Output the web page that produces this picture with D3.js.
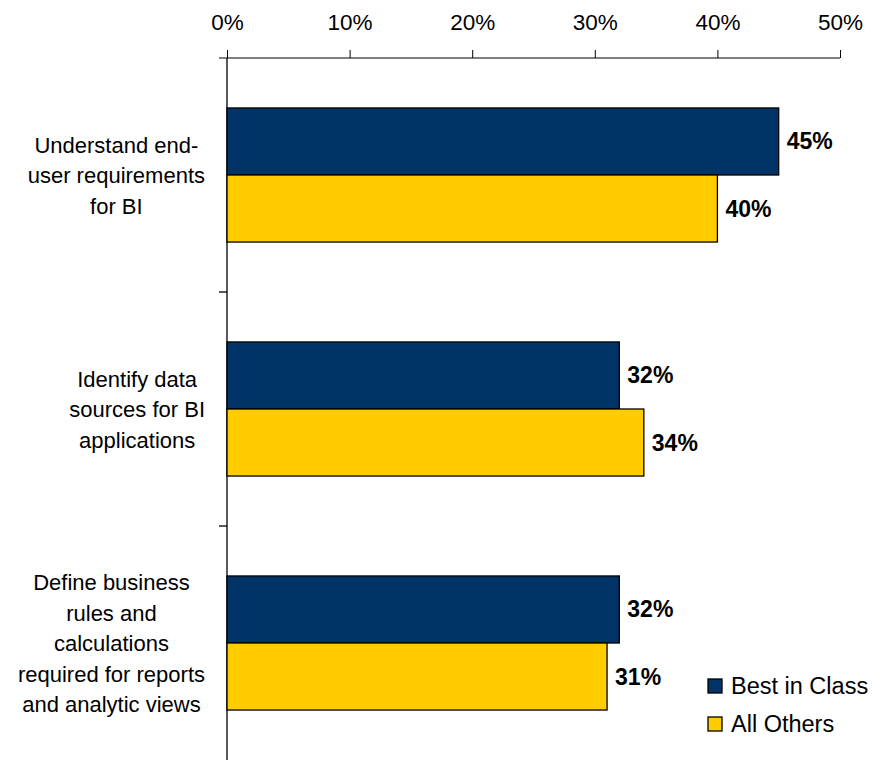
<!DOCTYPE html>
<html>
<head>
<meta charset="utf-8">
<script src="https://cdn.jsdelivr.net/npm/d3@7"></script>
<style>
  html, body { margin: 0; padding: 0; background: #fff; }
  svg { display: block; font-family: "Liberation Sans", Arial, sans-serif; }
</style>
</head>
<body>
<svg id="chart" width="874" height="760"></svg>
<script>
// Survey results: share of respondents by activity
const categories = [
  ["Understand end-", "user requirements", "for BI"],
  ["Identify data", "sources for BI", "applications"],
  ["Define business", "rules and", "calculations", "required for reports", "and analytic views"]
];
const seriesNames = ["Best in Class", "All Others"];
const bestInClass = [45, 32, 32];
const allOthers = [40, 34, 31];
const xTicks = [0, 10, 20, 30, 40, 50];
const colors = ["#003366", "#FFCC00"];

const svg = d3.select("#chart");
const plotLeft = 227, plotRight = 840, plotTop = 58, plotBottom = 760;

const keys = categories.map((c, i) => i);
const x = d3.scaleLinear().domain([0, 50]).range([plotLeft, plotRight]);
const y = d3.scaleBand().domain(keys).range([plotTop, plotBottom])
  .paddingInner(0.427).paddingOuter(0.2135);
const y1 = d3.scaleBand().domain([0, 1]).range([0, y.bandwidth()]);

// top value axis
const xAxis = d3.axisTop(x).tickValues(xTicks).tickSize(8).tickPadding(20)
  .tickFormat(d => d + "%");
const gx = svg.append("g").attr("transform", `translate(0,${plotTop})`).call(xAxis);
gx.select(".domain").attr("d", `M${plotLeft - 8},0H${plotRight}`).attr("stroke", "#000");
gx.selectAll(".tick line").attr("stroke", "#000");
gx.selectAll(".tick text").attr("font-size", 22.5).attr("fill", "#000")
  .attr("font-family", "Liberation Sans, Arial, sans-serif");

// category axis on the left, ticks between groups
const yAxisG = svg.append("g");
yAxisG.append("line").attr("x1", plotLeft).attr("x2", plotLeft)
  .attr("y1", plotTop).attr("y2", plotBottom).attr("stroke", "#000").attr("stroke-width", 1.3);
const boundaries = keys.slice(1).map(k => y(k) - y.step() * y.paddingInner() / 2);
yAxisG.selectAll("line.sep").data(boundaries).join("line").attr("class", "sep")
  .attr("x1", plotLeft - 8).attr("x2", plotLeft).attr("y1", d => d).attr("y2", d => d)
  .attr("stroke", "#000").attr("stroke-width", 1.3);

// category labels: each block right-aligned next to the axis, lines centred in the block
const labelG = svg.append("g");
const labelRight = 205, lh = 30.5;
categories.forEach((lines, i) => {
  const cy = y(i) + y.bandwidth() / 2;
  const t = labelG.append("text").attr("text-anchor", "middle")
    .attr("font-size", 22).attr("fill", "#000");
  const spans = lines.map((ln, j) =>
    t.append("tspan")
      .attr("y", cy + (j - (lines.length - 1) / 2) * lh + 8).text(ln));
  const maxW = d3.max(spans, s => s.node().getComputedTextLength());
  spans.forEach(s => s.attr("x", labelRight - maxW / 2));
});

// bars
const data = keys.map(i => [bestInClass[i], allOthers[i]]);
const groups = svg.append("g").selectAll("g").data(data).join("g")
  .attr("transform", (d, i) => `translate(0,${y(i)})`);
groups.selectAll("rect").data(d => d).join("rect")
  .attr("x", x(0))
  .attr("y", (d, j) => y1(j))
  .attr("width", d => x(d) - x(0))
  .attr("height", y1.bandwidth())
  .attr("fill", (d, j) => colors[j])
  .attr("stroke", "#000").attr("stroke-width", 1.3);
groups.selectAll("text").data(d => d).join("text")
  .attr("x", d => x(d) + 8)
  .attr("y", (d, j) => y1(j) + y1.bandwidth() / 2 + 8)
  .attr("font-size", 23).attr("font-weight", "bold").attr("fill", "#000")
  .text(d => d + "%");

// legend
const legend = svg.append("g").attr("transform", "translate(708,679)");
seriesNames.forEach((name, i) => {
  const g = legend.append("g").attr("transform", `translate(0,${i * 38})`);
  g.append("rect").attr("width", 14).attr("height", 14)
    .attr("fill", colors[i]).attr("stroke", "#000").attr("stroke-width", 1.3);
  g.append("text").attr("x", 23).attr("y", 15).attr("font-size", 23.5)
    .attr("fill", "#000").text(name);
});
</script>
</body>
</html>
